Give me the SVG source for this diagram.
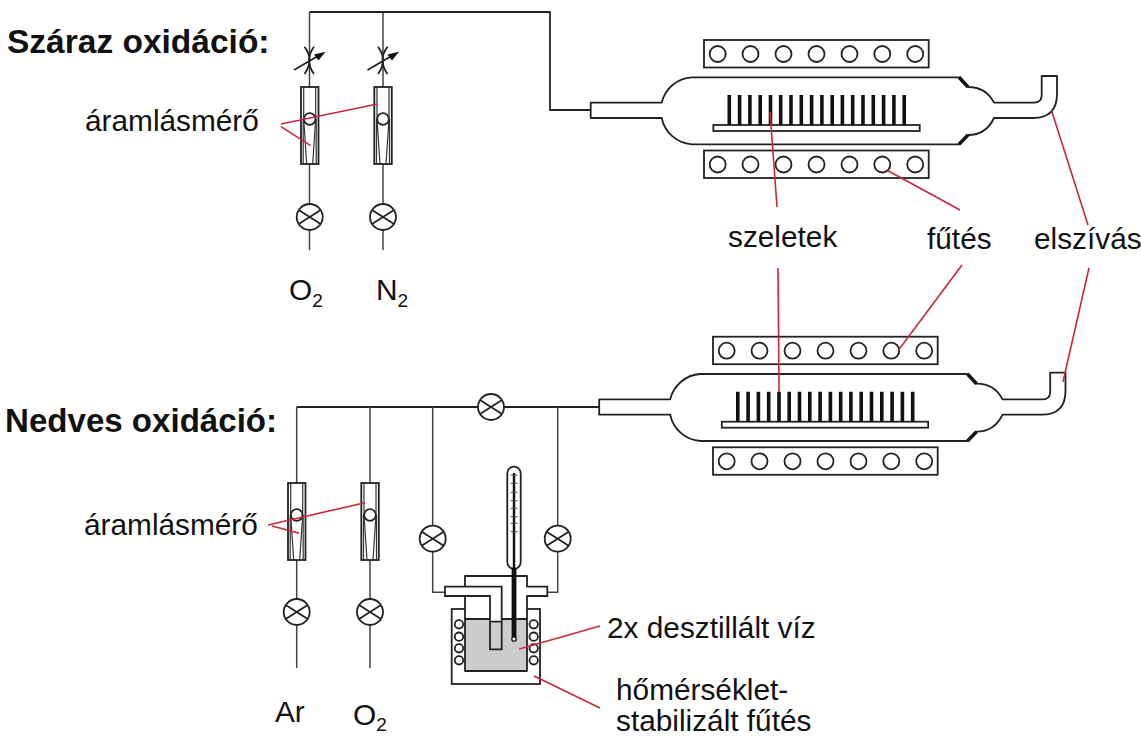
<svg xmlns="http://www.w3.org/2000/svg" xmlns:xlink="http://www.w3.org/1999/xlink" width="1141" height="738" viewBox="0 0 1141 738">
<style>
text{font-family:"Liberation Sans",Arial,sans-serif;fill:#111}
.h{font-weight:bold;font-size:33.500px}
.t{font-size:29.800px}
.b{font-size:19px}
.s{fill:none;stroke:#222;stroke-width:1.800;stroke-linejoin:round}
.w{fill:#fff;stroke:#222;stroke-width:1.800}
.p{fill:none;stroke:#444;stroke-width:1.500}
.r{fill:none;stroke:#c9283a;stroke-width:1.600}
.k{fill:#111;stroke:none}
.i{fill:none;stroke:#333;stroke-width:1.200}
</style>
<defs>
<g id="v"><circle class="w" r="13"/><path class="s" d="M-11,-7L11,7M-11,7L11,-7"/></g>
<g id="fm">
<rect class="w" x="-8.700" y="0" width="17.500" height="77"/>
<path class="i" d="M-6,0V32L-3,77M6,0V32L3,77"/>
<path class="i" d="M-6.500,32L-6.500,77M6.500,32L6.500,77"/>
<circle class="w" cy="32" r="5.800"/>
</g>
<g id="heater">
<rect class="w" x="704" y="0" width="224.700" height="27.500"/>
<g class="w"><circle cx="717.700" cy="14" r="8"/><circle cx="750.500" cy="14" r="8"/><circle cx="783.500" cy="14" r="8"/><circle cx="816.500" cy="14" r="8"/><circle cx="849.500" cy="14" r="8"/><circle cx="882.300" cy="14" r="8"/><circle cx="915.200" cy="14" r="8"/></g>
</g>
<g id="tube">
<path class="s" d="M590.700,102.700H661.700A33,33 0 0 1 691.700,77.300H959L968,87Q986,87 994,102.700H1034Q1041.700,102.700 1041.700,95V76H1057V94Q1057,118 1033,118H994Q986,135 968,135L959,144.300H691.700A33,33 0 0 1 661.700,118H590.700Z"/>
<path d="M959,77.300L968,87M959,144.300L968,135" stroke="#111" stroke-width="3.500" fill="none"/>
<rect class="w" x="713.300" y="125" width="206.400" height="6"/>
<path d="M729.300,95V125M739.600,95V125M749.900,95V125M760.200,95V125M770.500,95V125M780.700,95V125M791,95V125M801.300,95V125M811.600,95V125M821.900,95V125M832.200,95V125M842.400,95V125M852.700,95V125M863,95V125M873.300,95V125M883.600,95V125M893.900,95V125M904.200,95V125" stroke="#111" stroke-width="3.600" fill="none"/>
</g>
</defs>

<g id="connectors">
<path class="p" d="M309.500,12V87M383,12V87M309.500,164V204M383,164V204M309.500,230V250M383,230V250"/>
<path class="s" d="M309.500,12H550V110H590.700"/>
<path class="s" d="M296.700,407H478M504,407H599"/>
<path class="p" d="M296.700,407V483M370,407V483M296.700,560V599M370,560V599M296.700,625V668M370,625V668"/>
<path class="p" d="M432.700,407V525.700M432.700,551.700V592.300H445M557.700,407V525.700M557.700,551.700V592.300H547.300"/>
</g>

<g id="needle-valve-1">
<path class="s" d="M304.500,46.700Q314.500,60 304.500,74M314,46.700Q304,60 314,74M294,70L318,56"/>
<path class="k" d="M314,54.500L325.500,51.700L318.500,60.500Z"/>
</g>
<g id="needle-valve-2" transform="translate(73.500,0)">
<path class="s" d="M304.500,46.700Q314.500,60 304.500,74M314,46.700Q304,60 314,74M294,70L318,56"/>
<path class="k" d="M314,54.500L325.500,51.700L318.500,60.500Z"/>
</g>
<use id="flowmeter-1" xlink:href="#fm" href="#fm" transform="translate(309.700,87)"/>
<use id="flowmeter-2" xlink:href="#fm" href="#fm" transform="translate(383,87)"/>
<use id="valve-1" xlink:href="#v" href="#v" transform="translate(309.700,217)"/>
<use id="valve-2" xlink:href="#v" href="#v" transform="translate(383,217)"/>
<use id="flowmeter-3" xlink:href="#fm" href="#fm" transform="translate(296.700,483)"/>
<use id="flowmeter-4" xlink:href="#fm" href="#fm" transform="translate(370,483)"/>
<use id="valve-3" xlink:href="#v" href="#v" transform="translate(296.700,612)"/>
<use id="valve-4" xlink:href="#v" href="#v" transform="translate(370,612)"/>
<use id="valve-5" xlink:href="#v" href="#v" transform="translate(491,407)"/>
<use id="valve-6" xlink:href="#v" href="#v" transform="translate(432.700,538.700)"/>
<use id="valve-7" xlink:href="#v" href="#v" transform="translate(557.700,538.700)"/>

<g id="furnace-dry">
<use xlink:href="#heater" href="#heater" y="40"/>
<use xlink:href="#tube" href="#tube"/>
<use xlink:href="#heater" href="#heater" y="150.500"/>
</g>
<g id="furnace-wet">
<use xlink:href="#heater" href="#heater" x="9" y="336.700"/>
<use xlink:href="#tube" href="#tube" transform="translate(8.500,296.700)"/>
<use xlink:href="#heater" href="#heater" x="9" y="447.300"/>
</g>

<g id="bubbler">
<rect class="w" x="451.700" y="609" width="88.300" height="75"/>
<g class="w"><circle cx="459" cy="624.300" r="4.200"/><circle cx="459" cy="636.700" r="4.200"/><circle cx="459" cy="648.300" r="4.200"/><circle cx="459" cy="660.300" r="4.200"/><circle cx="533.700" cy="624.300" r="4.200"/><circle cx="533.700" cy="636.700" r="4.200"/><circle cx="533.700" cy="648.300" r="4.200"/><circle cx="533.700" cy="660.300" r="4.200"/></g>
<rect x="465" y="576" width="62" height="43" fill="#fff"/>
<rect x="465" y="619" width="62" height="52" fill="#ccc"/>
<path class="s" d="M465,671V576H527V671ZM465,619H527"/>
<path d="M490,621.700H501.700V649.300H490Z" fill="#ccc"/>
<path class="w" d="M445,586.700H501.700V621.700H490V596H445Z"/>
<path class="s" d="M490,621.700V649.300H501.700V621.700"/>
<path class="w" d="M527,586.700H547.300V596H527"/>
<path d="M527,587.600V595.100" stroke="#fff" stroke-width="2.500"/>
<rect class="w" x="507.300" y="466.700" width="13.400" height="102" rx="6.500"/>
<path d="M514,473V568" stroke="#111" stroke-width="2.400"/>
<path d="M514,568V637" stroke="#111" stroke-width="4.800"/>
<circle cx="514" cy="639" r="2.200" fill="#fff" stroke="#111" stroke-width="1.300"/>
<path d="M510.700,475H517.300M510.700,483.300H517.300M510.700,492.300H517.300M510.700,500.700H517.300M510.700,508.300H517.300M510.700,516.700H517.300M510.700,523.300H517.300M510.700,531.700H517.300" stroke="#444" stroke-width="1"/>
</g>

<g id="leaders">
<path class="r" d="M281,124L377.300,104M281,126.700L310.700,145.700"/>
<path class="r" d="M268,525L365,502.700M272,526L299.300,533.300"/>
<path class="r" d="M770,111.700L777,207M888,170.700L960,210M1051.700,111L1088,225"/>
<path class="r" d="M778,268L779,392M898,350.700L962,265M1063,381.700L1089,268"/>
<path class="r" d="M519.300,649L600,626M534,676L600,708"/>
</g>

<g id="labels">
<text class="h" x="7" y="53">Száraz oxidáció:</text>
<text class="h" x="5" y="432" style="font-size:33.100px">Nedves oxidáció:</text>
<text class="t" x="85" y="131">áramlásmérő</text>
<text class="t" x="84" y="535">áramlásmérő</text>
<text class="t" x="289" y="300">O<tspan class="b" dy="7">2</tspan></text>
<text class="t" x="376" y="300">N<tspan class="b" dy="7">2</tspan></text>
<text class="t" x="275" y="722">Ar</text>
<text class="t" x="353" y="725">O<tspan class="b" dy="6">2</tspan></text>
<text class="t" x="728" y="247">szeletek</text>
<text class="t" x="927" y="249">fűtés</text>
<text class="t" x="1034" y="249">elszívás</text>
<text class="t" x="607" y="638">2x desztillált víz</text>
<text class="t" x="616" y="700">hőmérséklet-</text>
<text class="t" x="616" y="731">stabilizált fűtés</text>
</g>
</svg>
